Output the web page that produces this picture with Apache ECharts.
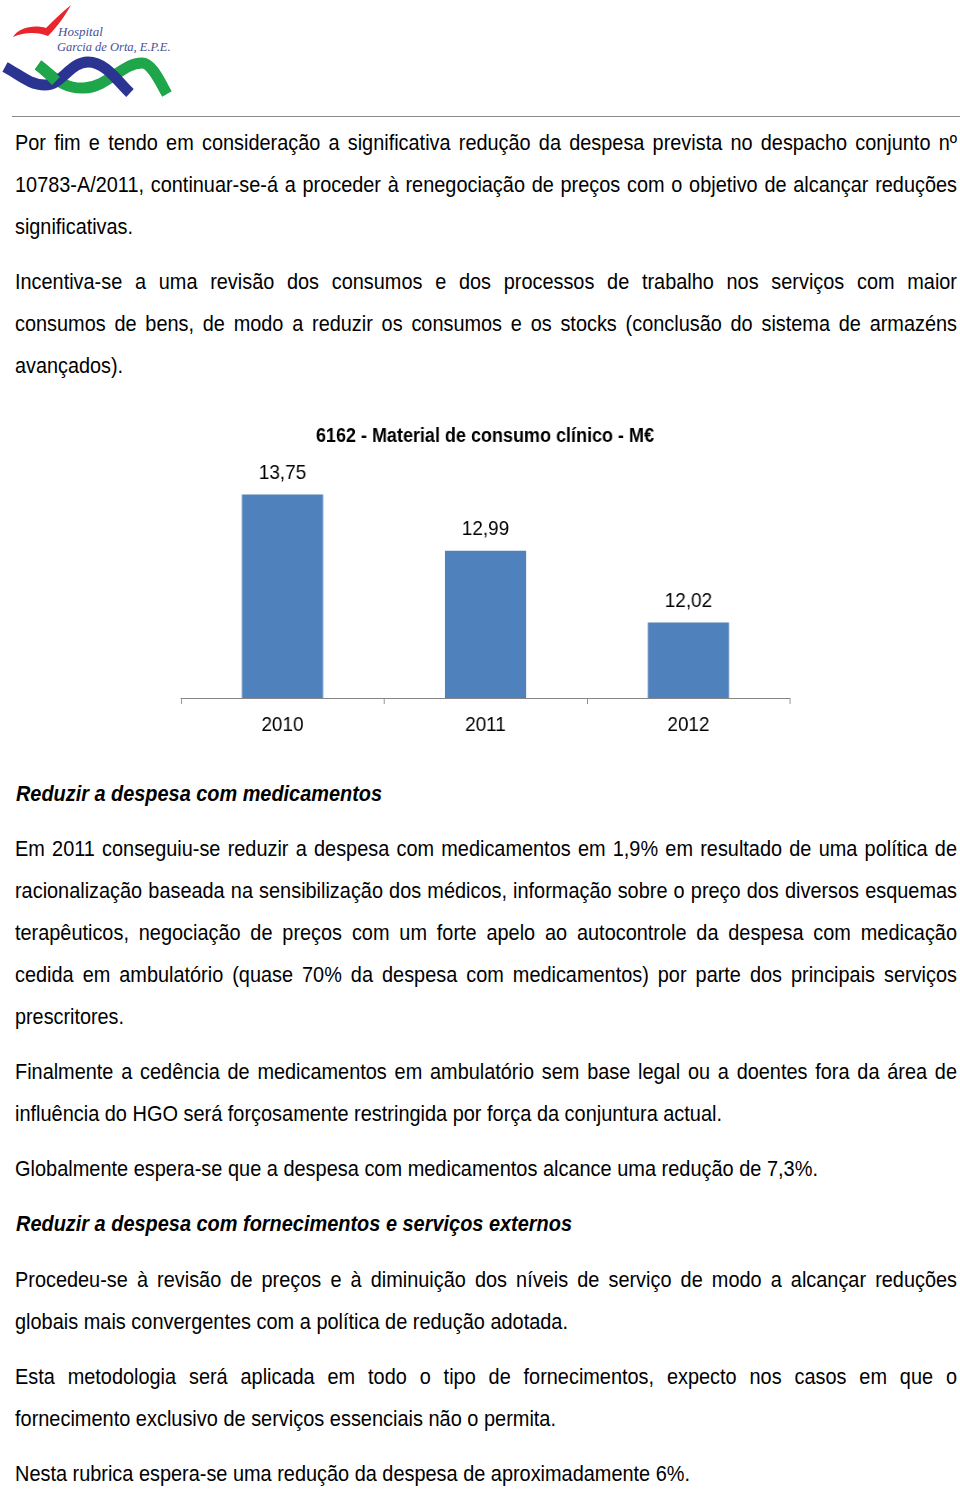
<!DOCTYPE html>
<html>
<head>
<meta charset="utf-8">
<script src="https://cdn.jsdelivr.net/npm/echarts@6/dist/echarts.min.js"></script>
<style>
  html, body { margin: 0; padding: 0; background: #fff; }
  body { width: 960px; height: 1489px; position: relative; overflow: hidden; }
  .ln { position: absolute; left: 15px; white-space: nowrap; font-family: 'Liberation Sans Narrow', 'Arial Narrow', 'Liberation Sans', Arial, sans-serif; font-size: 21.5px; line-height: 42px; height: 42px; color: #000; transform-origin: 0 50%; }
  .ln span { display: inline-block; }
  .h { font-weight: bold; font-style: italic; left: 16px; }
  #rule { position: absolute; left: 12px; top: 116px; width: 948px; height: 1px; background: #8a8a8a; }
  #logo { position: absolute; left: 0; top: 0; }
  #chartWrap { position: absolute; left: 165px; top: 400px; width: 640px; height: 350px; overflow: visible; }
  #chart { position: absolute; left: 0; top: 0; height: 350px; transform-origin: 0 0; }
</style>
</head>
<body>
<svg id="logo" width="200" height="110" viewBox="0 0 200 110">
  <path d="M13 37 C 18 28, 34 24, 46 28 C 54 20, 62 12, 71 5 C 66 14, 58 26, 48 36 C 38 32, 24 32, 13 37 Z" fill="#e8262b"/>
  <text x="58" y="36" font-family="'Liberation Serif', 'DejaVu Serif', serif" font-style="italic" font-size="13" fill="#4a4e96">Hospital</text>
  <text x="57" y="51" font-family="'Liberation Serif', 'DejaVu Serif', serif" font-style="italic" font-size="12.5" fill="#4a4e96">Garcia de Orta, E.P.E.</text>
  <path d="M38 65 C 52 75, 62 89, 84 88 C 108 87, 122 63, 142 63 C 152 63, 160 82, 167 94" fill="none" stroke="#1fa64a" stroke-width="11"/>
  <path d="M5 67 C 20 75, 30 85, 45 85 C 62 85, 70 62, 88 62 C 106 62, 118 82, 130 93" fill="none" stroke="#2b3591" stroke-width="11"/>
  <path d="M38 65 C 45 70, 50 75, 56 81" fill="none" stroke="#1fa64a" stroke-width="11"/>
</svg>
<div id="rule"></div>

<div class="ln j" style="top:121.5px"><span>Por fim e tendo em consideração a significativa redução da despesa prevista no despacho conjunto nº</span></div>
<div class="ln j" style="top:163.5px"><span>10783-A/2011, continuar-se-á a proceder à renegociação de preços com o objetivo de alcançar reduções</span></div>
<div class="ln" data-w="118" style="top:205.5px"><span>significativas.</span></div>

<div class="ln j" style="top:260.5px"><span>Incentiva-se a uma revisão dos consumos e dos processos de trabalho nos serviços com maior</span></div>
<div class="ln j" style="top:302.5px"><span>consumos de bens, de modo a reduzir os consumos e os stocks (conclusão do sistema de armazéns</span></div>
<div class="ln" data-w="108" style="top:344.5px"><span>avançados).</span></div>

<div class="ln h" data-w="366" style="top:772.5px"><span>Reduzir a despesa com medicamentos</span></div>

<div class="ln j" style="top:827.5px"><span>Em 2011 conseguiu-se reduzir a despesa com medicamentos em 1,9% em resultado de uma política de</span></div>
<div class="ln j" style="top:869.5px"><span>racionalização baseada na sensibilização dos médicos, informação sobre o preço dos diversos esquemas</span></div>
<div class="ln j" style="top:911.5px"><span>terapêuticos, negociação de preços com um forte apelo ao autocontrole da despesa com medicação</span></div>
<div class="ln j" style="top:953.5px"><span>cedida em ambulatório (quase 70% da despesa com medicamentos) por parte dos principais serviços</span></div>
<div class="ln" data-w="109" style="top:995.5px"><span>prescritores.</span></div>

<div class="ln j" style="top:1050.5px"><span>Finalmente a cedência de medicamentos em ambulatório sem base legal ou a doentes fora da área de</span></div>
<div class="ln" data-w="707" style="top:1092.5px"><span>influência do HGO será forçosamente restringida por força da conjuntura actual.</span></div>

<div class="ln" data-w="803" style="top:1147.5px"><span>Globalmente espera-se que a despesa com medicamentos alcance uma redução de 7,3%.</span></div>

<div class="ln h" data-w="556" style="top:1202.5px"><span>Reduzir a despesa com fornecimentos e serviços externos</span></div>

<div class="ln j" style="top:1258.5px"><span>Procedeu-se à revisão de preços e à diminuição dos níveis de serviço de modo a alcançar reduções</span></div>
<div class="ln" data-w="553" style="top:1300.5px"><span>globais mais convergentes com a política de redução adotada.</span></div>

<div class="ln j" style="top:1355.5px"><span>Esta metodologia será aplicada em todo o tipo de fornecimentos, expecto nos casos em que o</span></div>
<div class="ln" data-w="541" style="top:1397.5px"><span>fornecimento exclusivo de serviços essenciais não o permita.</span></div>

<div class="ln" data-w="675" style="top:1452.5px"><span>Nesta rubrica espera-se uma redução da despesa de aproximadamente 6%.</span></div>

<div id="chartWrap"><div id="chart"></div></div>

<script>
// ---- chart data ----
var chartTitle = '6162 - Material de consumo clínico - M€';
var years = ['2010', '2011', '2012'];
var values = [13.75, 12.99, 12.02];

// ---- text fitting (justify lines like the source document) ----
(function () {
  var lines = Array.prototype.slice.call(document.querySelectorAll('.ln'));
  var ratios = [];
  lines.forEach(function (d) {
    if (d.dataset.w && !d.classList.contains('h')) {
      var w = d.firstChild.getBoundingClientRect().width;
      ratios.push(parseFloat(d.dataset.w) / w);
    }
  });
  var c = ratios.reduce(function (a, b) { return a + b; }, 0) / ratios.length;
  lines.forEach(function (d) {
    var sp = d.firstChild;
    var w = sp.getBoundingClientRect().width;
    if (d.classList.contains('j')) {
      var T = 942;
      var n = (sp.textContent.match(/ /g) || []).length;
      var extra = T / c - w;
      sp.style.wordSpacing = (extra / n) + 'px';
      d.style.transform = 'scaleX(' + c + ')';
    } else {
      d.style.transform = 'scaleX(' + (parseFloat(d.dataset.w) / w) + ')';
    }
  });
})();

// Condense the chart's text like a narrow font: draw wider, then squeeze horizontally.
var squeeze = 0.9;
var chartEl = document.getElementById('chart');
chartEl.style.width = (640 / squeeze) + 'px';
chartEl.style.transform = 'scaleX(' + squeeze + ')';

var chartFont = "'Liberation Sans Narrow', 'Arial Narrow', 'Liberation Sans', Arial, sans-serif";
var chart = echarts.init(chartEl, null, { renderer: 'canvas' });
chart.setOption({
  animation: false,
  title: {
    text: chartTitle,
    left: 'center',
    top: 21,
    textStyle: { fontFamily: chartFont, fontSize: 20, fontWeight: 'bold', color: '#000' }
  },
  grid: { left: 16 / squeeze, right: 15 / squeeze, top: 76, bottom: 52 },
  xAxis: {
    type: 'category',
    data: years,
    axisLine: { lineStyle: { color: '#868686', width: 1 } },
    axisTick: { show: true, length: 6, lineStyle: { color: '#868686' } },
    axisLabel: { fontFamily: chartFont, fontSize: 21, color: '#000', margin: 17 }
  },
  yAxis: { type: 'value', min: 11, max: 14, show: false, splitLine: { show: false } },
  series: [{
    type: 'bar',
    data: values,
    barWidth: '40%',
    itemStyle: { color: '#4f81bd' },
    label: {
      show: true,
      position: 'top',
      distance: 11,
      fontFamily: chartFont,
      fontSize: 21,
      color: '#000',
      formatter: function (p) { return p.value.toFixed(2).replace('.', ','); }
    }
  }]
});
</script>
</body>
</html>
